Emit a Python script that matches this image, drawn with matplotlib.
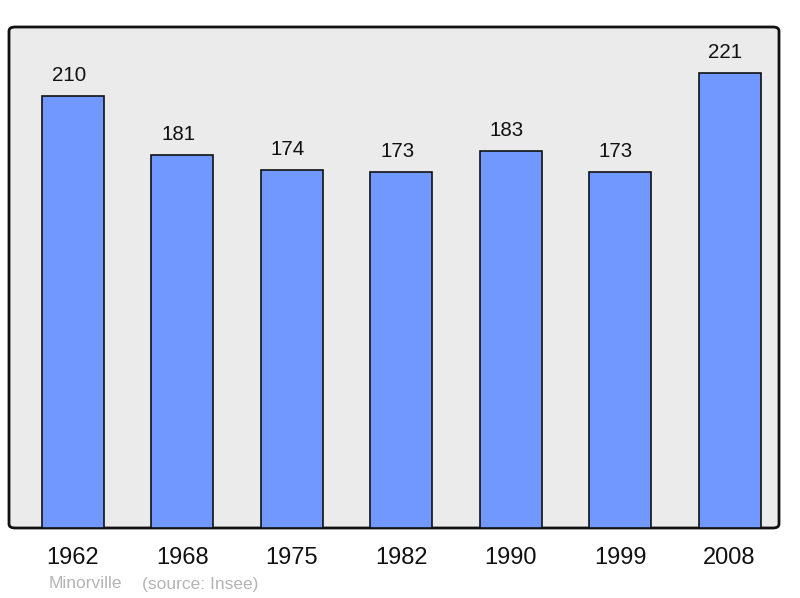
import matplotlib
matplotlib.use("Agg")
import matplotlib.pyplot as plt
from matplotlib.patches import FancyBboxPatch

plt.rcParams['font.family'] = ['Liberation Sans', 'DejaVu Sans']

years = ['1962', '1968', '1975', '1982', '1990', '1999', '2008']
population = [210, 181, 174, 173, 183, 173, 221]

fig = plt.figure(figsize=(8, 5.98), dpi=100)
ax = fig.add_axes([9/800, 1 - 528/598, 770/800, 501/598])
ax.set_facecolor('none')

# rounded background box
box = FancyBboxPatch((0, 0), 1, 1, boxstyle="round,pad=0,rounding_size=0.008",
                     transform=ax.transAxes, facecolor='#ebebeb', edgecolor='#111111',
                     linewidth=2, zorder=0, clip_on=False)
ax.add_patch(box)

x = range(len(years))
bars = ax.bar(x, population, width=0.567, color='#7098ff', edgecolor='#111111',
              linewidth=1.2, zorder=2)
for xi, v in zip(x, population):
    ax.annotate(str(v), (xi, v), xytext=(-3, 8), textcoords='offset points',
                ha='center', va='bottom', fontsize=14.8, color='#111111')

ax.set_xlim(-0.585, 6.452)
ax.set_ylim(0, 243.4)
for s in ax.spines.values():
    s.set_visible(False)
ax.set_yticks([])
ax.set_xticks(list(x))
ax.set_xticklabels(years, fontsize=17, color='#111111')
ax.tick_params(axis='x', length=0, pad=14)

fig.text(49/800, 1 - 584/598, 'Minorville', fontsize=12.5, color='#b4b4b4', va='center')
fig.text(142/800, 1 - 584/598, '(source: Insee)', fontsize=12.5, color='#b4b4b4', va='center')

fig.savefig('out.png', dpi=100)
